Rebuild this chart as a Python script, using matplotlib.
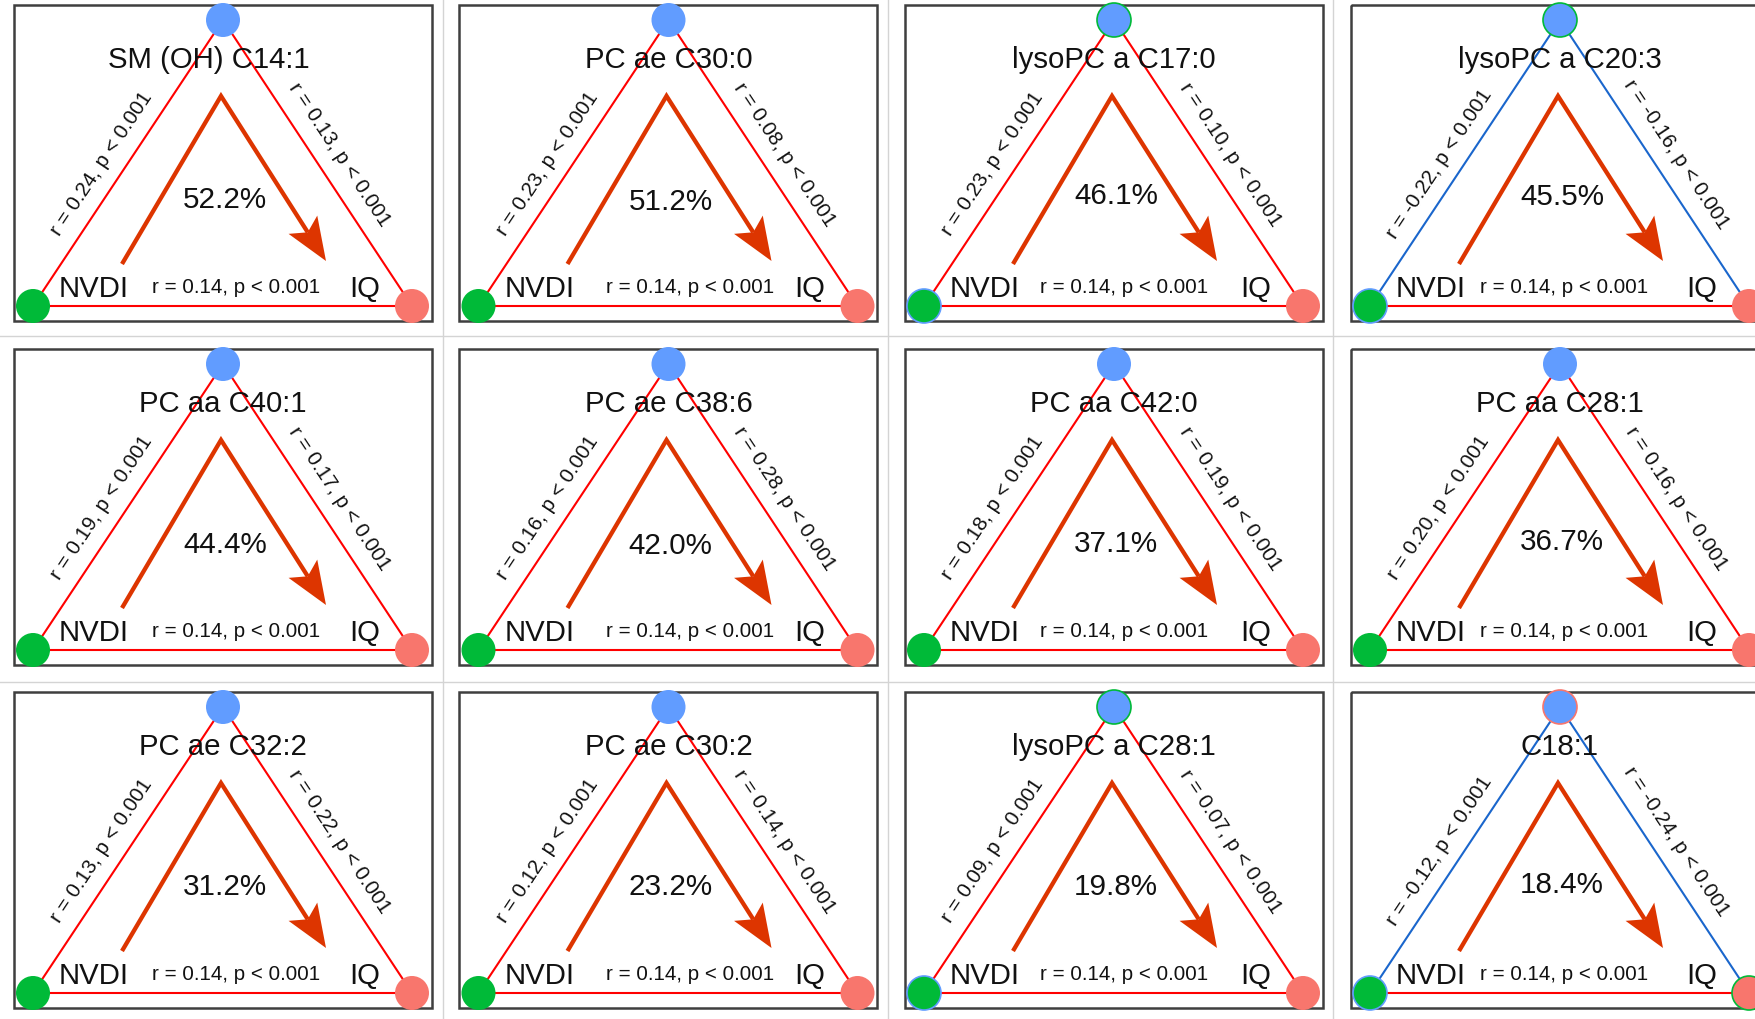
import numpy as np
import matplotlib
matplotlib.use("Agg")
import matplotlib.pyplot as plt
from matplotlib.patches import Circle, Rectangle, Polygon

plt.rcParams['font.family'] = ['Liberation Sans', 'DejaVu Sans']

# ---------------- data ----------------
metabolites = ["SM (OH) C14:1", "PC ae C30:0", "lysoPC a C17:0", "lysoPC a C20:3",
               "PC aa C40:1", "PC ae C38:6", "PC aa C42:0", "PC aa C28:1",
               "PC ae C32:2", "PC ae C30:2", "lysoPC a C28:1", "C18:1"]
r_left = [0.24, 0.23, 0.23, -0.22, 0.19, 0.16, 0.18, 0.20, 0.13, 0.12, 0.09, -0.12]
r_right = [0.13, 0.08, 0.10, -0.16, 0.17, 0.28, 0.19, 0.16, 0.22, 0.14, 0.07, -0.24]
r_bottom = [0.14] * 12
p_label = "p < 0.001"
mediated_pct = [52.2, 51.2, 46.1, 45.5, 44.4, 42.0, 37.1, 36.7, 31.2, 23.2, 19.8, 18.4]
exposure_label = "NVDI"
outcome_label = "IQ"
# circle outline colours as they appear in the picture
top_edge = [None, None, "#00BA38", "#00BA38", None, None, None, None, None, None, "#00BA38", "#F8766D"]
left_edge = [None, None, "#619CFF", "#619CFF", None, None, None, None, None, None, "#619CFF", "#619CFF"]
right_edge = [None] * 11 + ["#00BA38"]

# ---------------- style ----------------
col_blue_node = "#619CFF"
col_green_node = "#00BA38"
col_pink_node = "#F8766D"
pos_col = "#FF0000"
neg_col = "#1A66CC"
arrow_col = "#DD3500"
frame_col = "#3F3F3F"
txt_col = "#111111"

W, H = 1755, 1020
fig = plt.figure(figsize=(W / 100, H / 100), dpi=100)
ax = fig.add_axes([0, 0, 1, 1])
ax.set_xlim(0, W)
ax.set_ylim(H, 0)
ax.axis("off")

# grid separators
for x in [443, 888.5, 1333]:
    ax.plot([x, x], [0, H], color="#D4D4D4", lw=1.0, zorder=0)
for y in [337, 683]:
    ax.plot([0, W], [y, y], color="#D4D4D4", lw=1.0, zorder=0)

frame_x0 = [14, 459.5, 905, 1351]
frame_y0 = [6, 350, 693]
fw, fh = 418, 316
title_dx = [-14, 0, 0, 0, 0, 0, 0, 0, 0, 0, 0, 0]
bottom_label_x = [222, 231, 219, 213]
pct_dy = [0, 2, -4, -3, 1, 2, 0, -2, 0, 0, 0, -2]

def edge_color(r):
    return pos_col if r >= 0 else neg_col

for i, name in enumerate(metabolites):
    row, col = divmod(i, 4)
    ox, oy = frame_x0[col], frame_y0[row]
    P = lambda x, y: (ox + x, oy + y)

    ax.add_patch(Rectangle((ox, oy), fw, fh, fill=False, ec=frame_col, lw=1.8, zorder=1))

    top = np.array(P(209, 15))
    bl = np.array(P(19, 301))
    br = np.array(P(398, 301))

    ax.plot([bl[0], top[0]], [bl[1], top[1]], color=edge_color(r_left[i]), lw=1.5, zorder=2)
    ax.plot([top[0], br[0]], [top[1], br[1]], color=edge_color(r_right[i]), lw=1.5, zorder=2)
    ax.plot([bl[0], br[0]], [bl[1], br[1]], color=edge_color(r_bottom[i]), lw=1.5, zorder=2)

    # nodes
    for c, fc, ec in [(top, col_blue_node, top_edge[i]), (bl, col_green_node, left_edge[i]),
                      (br, col_pink_node, right_edge[i])]:
        ax.add_patch(Circle(c, 17, fc=fc, ec=ec if ec else fc, lw=1.2 if ec else 0, zorder=5))

    # texts
    ax.text(*P(209 + title_dx[i], 62), name, ha="center", va="baseline", fontsize=21.2,
            color=txt_col, zorder=3)
    ax.text(*P(45, 291), exposure_label, ha="left", va="baseline", fontsize=21.2, color=txt_col, zorder=3)
    ax.text(*P(335, 291), outcome_label, ha="left", va="baseline", fontsize=21.2, color=txt_col, zorder=3)
    ax.text(*P(bottom_label_x[col], 287), f"r = {r_bottom[i]:.2f}, {p_label}", ha="center",
            va="baseline", fontsize=14.8, color=txt_col, zorder=3)
    ax.text(*P(211, 202 + pct_dy[i]), f"{mediated_pct[i]:.1f}%", ha="center", va="baseline",
            fontsize=21.3, color=txt_col, zorder=3)

    ang = np.degrees(np.arctan2(bl[1] - top[1], top[0] - bl[0]))
    ax.text(*P(88, 158), f"r = {r_left[i]:.2f}, {p_label}", ha="center", va="center",
            rotation=ang, rotation_mode="anchor", fontsize=14.8, color=txt_col, zorder=3)
    ax.text(*P(325, 149), f"r = {r_right[i]:.2f}, {p_label}", ha="center", va="center",
            rotation=-ang, rotation_mode="anchor", fontsize=14.8, color=txt_col, zorder=3)

    # mediation arrow
    a0 = np.array(P(108, 259))
    a1 = np.array(P(207, 91))
    tip = np.array(P(312, 256))
    u = (tip - a1) / np.linalg.norm(tip - a1)
    n = np.array([-u[1], u[0]])
    L, HW, notch = 43, 17, 9
    back = tip - L * u
    nb = tip - (L - notch) * u
    ax.plot([a0[0], a1[0], nb[0]], [a0[1], a1[1], nb[1]], color=arrow_col, lw=3.1,
            solid_joinstyle="miter", solid_capstyle="butt", zorder=3)
    ax.add_patch(Polygon([tip, back + HW * n, nb, back - HW * n], closed=True,
                         fc=arrow_col, ec="none", zorder=3))

fig.savefig("out.png", dpi=100)
